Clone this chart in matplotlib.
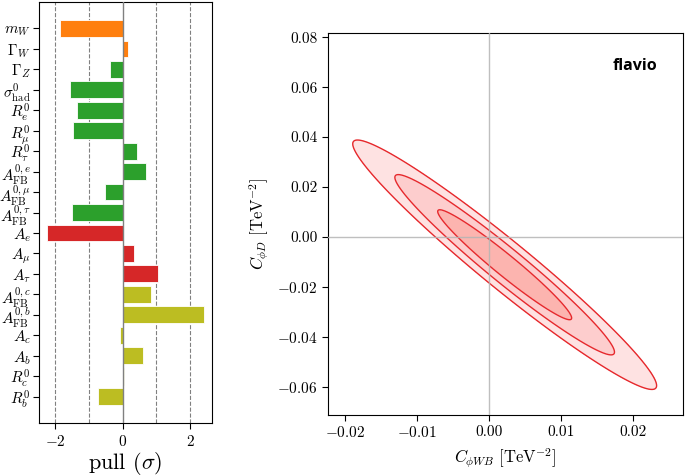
import numpy as np
import matplotlib
matplotlib.use("Agg")
import matplotlib.pyplot as plt

plt.rcParams['mathtext.fontset'] = 'cm'
plt.rcParams['font.family'] = 'serif'
plt.rcParams['font.serif'] = ['cmr10']
plt.rcParams['axes.formatter.use_mathtext'] = True

# pulls (left panel), top to bottom
labels = [r'$m_W$', r'$\Gamma_W$', r'$\Gamma_Z$', r'$\sigma_\mathrm{had}^0$',
          r'$R_e^0$', r'$R_\mu^0$', r'$R_\tau^0$',
          r'$A_\mathrm{FB}^{0,e}$', r'$A_\mathrm{FB}^{0,\mu}$', r'$A_\mathrm{FB}^{0,\tau}$',
          r'$A_e$', r'$A_\mu$', r'$A_\tau$',
          r'$A_\mathrm{FB}^{0,c}$', r'$A_\mathrm{FB}^{0,b}$',
          r'$A_c$', r'$A_b$', r'$R_c^0$', r'$R_b^0$']
pulls = [-1.87, 0.17, -0.39, -1.56, -1.35, -1.47, 0.43, 0.69, -0.52, -1.51,
         -2.25, 0.34, 1.06, 0.84, 2.42, -0.08, 0.59, 0.04, -0.72]
groups = ['W', 'W', 'Z', 'Z', 'Z', 'Z', 'Z', 'Z', 'Z', 'Z',
          'A', 'A', 'A', 'HF', 'HF', 'HF', 'HF', 'HF', 'HF']
group_colors = {'W': '#ff7f0e', 'Z': '#2ca02c', 'A': '#d62728', 'HF': '#bcbd22'}

# likelihood in the (C_phiWB, C_phiD) plane
center = (0.0022, -0.0111)
sig_x = 0.00615
sig_y = 0.01452
rho = -0.969
levels = [0, 2.30, 6.18, 11.83]  # 1, 2, 3 sigma for 2 dof
fill_colors = ['#fcb4af', '#fdcdcd', '#fee2e2']

fig = plt.figure(figsize=(6.85, 4.76), dpi=100)

# ---- left: pulls
ax1 = fig.add_axes([0.057, 0.111, 0.2525, 0.885])
ypos = np.arange(len(pulls))
cols = [group_colors[g] for g in groups]
ax1.barh(ypos, pulls, height=0.82, color=cols, edgecolor='white', linewidth=0.6, zorder=3)
for v in [-2, -1, 1, 2]:
    ax1.axvline(v, color='gray', ls='--', lw=0.8, zorder=1)
ax1.axvline(0, color='gray', lw=1.0, zorder=4)
ax1.set_yticks(ypos)
ax1.set_yticklabels(labels, fontsize=11)
ax1.set_ylim(len(pulls) - 1 + 1.3, -1.3)
ax1.set_xticks([-2, 0, 2])
ax1.tick_params(labelsize=11, length=4)
ax1.tick_params(axis='y', pad=2)
ax1.set_xlabel(r'pull ($\sigma$)', fontsize=16, labelpad=1)

# ---- right: contours
ax2 = fig.add_axes([0.4788, 0.128, 0.518, 0.8027])
x = np.linspace(-0.0224, 0.027, 500)
y = np.linspace(-0.0713, 0.0817, 500)
X, Y = np.meshgrid(x, y)
dx = (X - center[0]) / sig_x
dy = (Y - center[1]) / sig_y
chi2 = (dx**2 - 2 * rho * dx * dy + dy**2) / (1 - rho**2)
ax2.contourf(X, Y, chi2, levels=levels, colors=fill_colors, zorder=2)
ax2.contour(X, Y, chi2, levels=levels[1:], colors='#e6282c', linewidths=1.0, zorder=3)
ax2.axvline(0, color='#b4b4b4', lw=1.0, alpha=0.85, zorder=4)
ax2.axhline(0, color='#b4b4b4', lw=1.0, alpha=0.85, zorder=4)
ax2.set_xlim(-0.0224, 0.027)
ax2.set_ylim(-0.0713, 0.0817)
ax2.set_xticks([-0.02, -0.01, 0.0, 0.01, 0.02])
ax2.set_yticks([-0.06, -0.04, -0.02, 0.0, 0.02, 0.04, 0.06, 0.08])
ax2.xaxis.set_major_formatter(matplotlib.ticker.FuncFormatter(
    lambda v, p: ('$-$' if v < -1e-9 else '') + f'{abs(v):.2f}'))
ax2.yaxis.set_major_formatter(matplotlib.ticker.FuncFormatter(
    lambda v, p: ('$-$' if v < -1e-9 else '') + f'{abs(v):.2f}'))
ax2.tick_params(labelsize=11, length=4)
ax2.set_xlabel(r'$C_{\phi WB}\ [\mathrm{TeV}^{-2}]$', fontsize=12)
ax2.set_ylabel(r'$C_{\phi D}\ [\mathrm{TeV}^{-2}]$', fontsize=12)
ax2.text(0.865, 0.914, 'flavio', transform=ax2.transAxes, ha='center', va='center',
         fontsize=11.5, fontweight='bold', family='Open Sans')

fig.savefig('out.png', dpi=100)
